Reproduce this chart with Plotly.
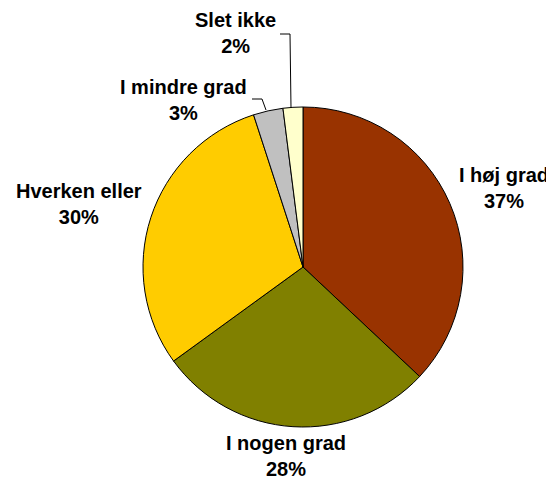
import plotly.graph_objects as go

categories = ["I høj grad", "I nogen grad", "Hverken eller", "I mindre grad", "Slet ikke"]
values = [37, 28, 30, 3, 2]
colors = ["#993300", "#808000", "#FFCC00", "#C0C0C0", "#FFFFCC"]

W, H = 554, 483
OFF = 8  # page body margin of the html page
FW, FH = W - OFF, H - OFF
# label centres in window pixels (layout)
label_pos = [(504, 188), (286, 456), (79, 204), (183, 100), (235, 33)]

def px(x):
    return (x - OFF) / FW

def py(y):
    return 1 - (y - OFF) / FH

fig = go.Figure(go.Pie(
    labels=categories, values=values, sort=False, direction="clockwise", rotation=0,
    marker=dict(colors=colors, line=dict(color="black", width=1)),
    textinfo="none", hoverinfo="label+percent", showlegend=False,
    domain=dict(x=[px(143), px(463)], y=[py(427), py(107)]),
))

total = sum(values)
for (cx, cy), cat, v in zip(label_pos, categories, values):
    fig.add_annotation(x=px(cx), y=py(cy), xref="paper", yref="paper", showarrow=False,
                       text=f"<b>{cat}<br>{round(100*v/total)}%</b>",
                       font=dict(family="Liberation Sans, Arial", size=20, color="black"),
                       xanchor="center", yanchor="middle", align="center", borderpad=0)

leaders = [
    [(280, 34), (290, 34), (291, 108)],
    [(252, 99), (262, 99), (266, 110)],
]
for pts in leaders:
    for (x0, y0), (x1, y1) in zip(pts[:-1], pts[1:]):
        fig.add_shape(type="line", xref="paper", yref="paper",
                      x0=px(x0), y0=py(y0), x1=px(x1), y1=py(y1),
                      line=dict(color="black", width=1))

fig.update_layout(width=FW, height=FH, margin=dict(l=0, r=0, t=0, b=0),
                  paper_bgcolor="white", plot_bgcolor="white")
fig.write_html("out.html")
